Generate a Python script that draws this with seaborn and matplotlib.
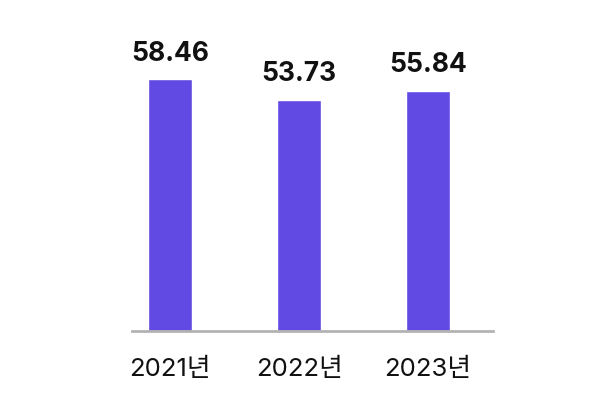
import matplotlib
matplotlib.use('Agg')
import matplotlib.pyplot as plt
import seaborn as sns
import pandas as pd

years = ['2021년', '2022년', '2023년']
values = [58.46, 53.73, 55.84]

df = pd.DataFrame({'year': years, 'value': values})

sns.set_style('white')
plt.rcParams['font.family'] = ['Inter', 'Noto Sans CJK KR', 'DejaVu Sans']

fig = plt.figure(figsize=(6, 4.07), dpi=100)
ax = fig.add_axes([132/600, 1-331/407, (493-132)/600, 310/407])
sns.barplot(data=df, x='year', y='value', color='#614AE3', width=0.34,
            saturation=1, ax=ax)
ax.set_ylim(0, 72)
ax.set_xlim(-0.295, 2.504)

for i, v in enumerate(values):
    ax.annotate(f'{v:.2f}', (i, v), xytext=(0, 9), textcoords='offset points',
                ha='center', va='bottom', fontsize=19, fontweight='bold',
                color='#111111')

sns.despine(ax=ax, left=True)
ax.spines['bottom'].set_color('#b3b3b3')
ax.spines['bottom'].set_linewidth(2)
ax.set_yticks([])
ax.set_xlabel('')
ax.set_ylabel('')
ax.tick_params(axis='x', length=0, pad=19, labelsize=18.5, labelcolor='#111111')

fig.savefig('out.png', dpi=100)
